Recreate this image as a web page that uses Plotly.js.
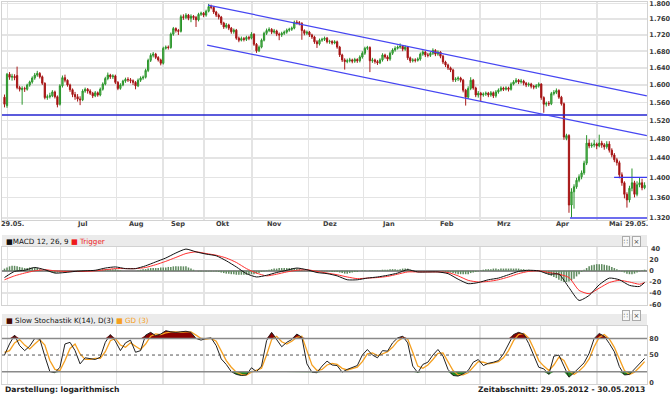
<!DOCTYPE html>
<html><head><meta charset="utf-8">
<script src="https://cdn.plot.ly/plotly-3.0.1.min.js"></script>
<style>html,body{margin:0;padding:0;background:#fff}#c{width:670px;height:394px}</style>
</head><body><div id="c"></div>
<script>
// ---- price data (USD, one candle per trading-day slot) ----
const openP = [1572,1553,1625,1618,1620,1622,1594,1589,1592,1590,1600,1607,1616,1623,1627,1619,1604,1571,1573,1575,
1584,1573,1556,1598,1617,1611,1600,1589,1578,1573,1568,1566,1586,1590,1586,1581,1575,1582,1577,1590,
1602,1615,1623,1619,1621,1606,1592,1600,1609,1613,1612,1610,1606,1598,1611,1616,1618,1634,1658,1670,
1673,1665,1659,1651,1687,1690,1689,1722,1736,1731,1729,1766,1764,1770,1762,1767,1764,1758,1772,1775,
1770,1780,1792,1790,1778,1770,1765,1750,1740,1745,1737,1728,1732,1712,1707,1711,1709,1714,1712,1722,
1697,1681,1690,1707,1724,1731,1734,1727,1730,1722,1720,1724,1727,1732,1734,1737,1752,1751,1749,1731,
1724,1727,1720,1715,1703,1698,1707,1709,1712,1703,1704,1700,1703,1690,1671,1659,1655,1657,1659,1656,
1660,1657,1666,1675,1687,1689,1657,1659,1655,1652,1659,1671,1666,1661,1675,1683,1687,1690,1692,1685,
1690,1664,1657,1659,1658,1661,1673,1678,1671,1670,1675,1682,1673,1678,1668,1654,1647,1640,1635,1612,
1614,1616,1611,1588,1572,1592,1611,1593,1577,1581,1577,1579,1581,1577,1582,1575,1584,1588,1593,1590,
1593,1590,1602,1607,1611,1607,1609,1604,1600,1602,1597,1595,1598,1602,1571,1556,1558,1557,1580,1583,
1587,1572,1557,1481,1487,1345,1371,1381,1394,1401,1409,1429,1471,1465,1467,1469,1465,1471,1467,1463,
1469,1456,1446,1436,1430,1405,1389,1366,1355,1378,1389,1366,1385,1389,1379];
const highP = [1578,1628,1630,1626,1625,1643,1598,1597,1596,1603,1610,1620,1628,1633,1630,1622,1606,1578,1582,1588,
1587,1576,1602,1622,1624,1613,1603,1592,1584,1579,1574,1590,1594,1593,1590,1584,1586,1585,1594,1606,
1619,1629,1626,1625,1624,1609,1604,1612,1617,1618,1616,1613,1609,1615,1620,1622,1638,1662,1675,1678,
1676,1668,1662,1691,1694,1694,1726,1740,1739,1735,1771,1772,1775,1773,1772,1770,1768,1776,1779,1778,
1784,1799,1797,1793,1781,1774,1768,1753,1750,1748,1740,1736,1735,1716,1716,1715,1718,1718,1727,1724,
1700,1694,1711,1728,1736,1739,1737,1735,1733,1726,1728,1731,1736,1738,1741,1756,1757,1755,1752,1734,
1731,1730,1723,1718,1707,1711,1713,1716,1715,1708,1707,1707,1706,1693,1674,1663,1662,1664,1662,1664,
1663,1670,1680,1691,1693,1692,1664,1662,1659,1663,1675,1674,1670,1679,1687,1692,1694,1699,1695,1694,
1692,1667,1663,1663,1665,1677,1682,1681,1676,1679,1687,1685,1682,1680,1671,1657,1650,1643,1638,1618,
1620,1619,1614,1591,1597,1618,1614,1596,1586,1584,1583,1585,1584,1586,1585,1588,1592,1597,1596,1597,
1596,1606,1611,1616,1614,1614,1612,1607,1606,1605,1600,1602,1606,1604,1574,1562,1563,1584,1588,1592,
1590,1575,1560,1491,1490,1378,1386,1399,1406,1414,1434,1488,1479,1472,1478,1472,1489,1476,1471,1475,
1475,1460,1450,1440,1434,1410,1392,1370,1383,1418,1393,1392,1400,1397,1390];
const lowP = [1549,1548,1612,1610,1611,1590,1585,1555,1584,1587,1596,1603,1612,1619,1615,1600,1567,1566,1569,1572,
1569,1549,1553,1594,1606,1596,1584,1572,1566,1562,1554,1563,1582,1580,1577,1570,1572,1573,1574,1587,
1599,1611,1614,1614,1602,1588,1589,1597,1605,1607,1604,1600,1590,1595,1607,1612,1615,1630,1654,1665,
1661,1655,1646,1648,1684,1684,1686,1718,1726,1720,1726,1758,1760,1757,1752,1758,1740,1754,1768,1765,
1766,1777,1785,1773,1765,1759,1745,1735,1736,1732,1723,1723,1708,1702,1704,1704,1705,1707,1709,1693,
1676,1678,1687,1704,1720,1727,1722,1723,1717,1707,1715,1720,1723,1728,1730,1734,1746,1744,1708,1719,
1720,1715,1710,1698,1688,1694,1703,1705,1699,1698,1696,1697,1686,1666,1654,1636,1651,1653,1651,1652,
1652,1653,1662,1671,1683,1630,1652,1650,1647,1649,1655,1662,1656,1657,1671,1679,1684,1686,1680,1681,
1659,1652,1653,1653,1655,1657,1669,1666,1665,1666,1671,1668,1669,1663,1649,1642,1635,1630,1607,1607,
1609,1606,1583,1553,1568,1588,1589,1572,1571,1561,1573,1575,1572,1573,1570,1571,1580,1585,1586,1587,
1585,1587,1599,1604,1602,1603,1599,1595,1596,1592,1590,1591,1594,1566,1537,1551,1552,1554,1576,1579,
1568,1553,1478,1477,1330,1321,1338,1377,1390,1396,1405,1425,1460,1461,1462,1458,1462,1461,1457,1459,
1451,1441,1431,1424,1398,1383,1358,1340,1350,1372,1360,1362,1380,1374,1376];
const closeP = [1556,1625,1618,1620,1617,1594,1590,1592,1591,1600,1607,1616,1623,1627,1619,1604,1571,1573,1575,1584,
1573,1555,1598,1617,1611,1600,1589,1578,1573,1568,1566,1586,1590,1586,1581,1575,1582,1577,1590,1602,
1615,1623,1619,1621,1606,1592,1600,1609,1613,1612,1610,1606,1598,1611,1616,1618,1634,1658,1670,1673,
1665,1659,1651,1687,1690,1689,1722,1736,1731,1729,1766,1764,1770,1762,1767,1764,1758,1772,1775,1770,
1780,1792,1790,1778,1770,1765,1750,1740,1745,1737,1728,1732,1712,1707,1711,1709,1714,1712,1722,1697,
1681,1690,1707,1724,1731,1734,1727,1730,1722,1720,1724,1727,1732,1734,1737,1752,1751,1749,1731,1724,
1727,1720,1715,1703,1698,1707,1709,1712,1703,1704,1700,1703,1690,1671,1659,1655,1657,1659,1656,1660,
1657,1666,1675,1687,1689,1657,1659,1655,1652,1659,1671,1666,1661,1675,1683,1687,1690,1692,1685,1690,
1664,1657,1659,1658,1661,1673,1678,1671,1670,1675,1682,1673,1678,1668,1654,1647,1640,1635,1612,1614,
1616,1611,1588,1572,1592,1611,1593,1577,1581,1577,1579,1581,1577,1582,1575,1584,1588,1593,1590,1593,
1590,1602,1607,1611,1607,1609,1604,1600,1602,1597,1595,1598,1602,1571,1556,1558,1557,1580,1583,1587,
1572,1557,1484,1487,1345,1371,1381,1394,1401,1409,1429,1471,1465,1467,1469,1465,1471,1467,1463,1469,
1456,1446,1436,1430,1405,1389,1366,1355,1378,1389,1366,1385,1389,1379,1384];

// ---- MACD (sampled every 4 slots, last at slot 254) ----
const macdLine = [-12,-1,1,6,2,-4,-3,-1,0,1,5,7,4,4,9,16,23,32,39,34,30,27,18,7,-5,-11,-8,-3,1,5,
2,-3,-5,-9,-16,-16,-13,-11,-8,-4,2,-2,-2,-2,-5,-15,-23,-21,-16,-13,-7,-1,1,0,-6,-6,-30,-53,-44,-25,
-13,-16,-26,-28,-21];
const triggerLine = [-16,-9,-4,0,2,0,-1,-1,-1,0,2,4,4,4,6,11,17,24,31,34,31,28,23,15,4,-4,-9,-6,-2,1,
2,-1,-4,-7,-11,-14,-13,-12,-10,-6,-2,-2,-2,-2,-3,-9,-17,-20,-19,-16,-11,-5,-1,0,-3,-6,-12,-35,-41,-31,
-21,-17,-20,-24,-21];
const macdHist = [4,6,8,9,9,8,7,6,5,5,6,6,6,5,3,1,
0,-1,-2,-3,-4,-3,-3,-2,-2,-1,0,0,0,1,1,1,
1,1,1,1,1,2,2,3,3,3,3,3,3,2,1,0,
0,0,0,0,0,1,2,3,3,4,5,5,5,5,6,6,
6,7,7,8,8,8,8,8,8,6,4,2,0,-1,-1,-1,
-1,-1,-1,-1,-1,-2,-3,-4,-5,-5,-6,-6,-7,-7,-7,-7,
-7,-7,-6,-6,-5,-4,-2,-1,1,2,3,4,4,5,5,5,
5,5,5,5,4,3,2,1,0,-1,-1,-2,-2,-1,-1,-1,
-1,-1,-2,-2,-2,-3,-4,-5,-5,-4,-3,-2,-2,0,1,1,
0,1,1,1,1,1,2,2,2,3,3,3,2,3,4,4,
4,2,1,0,0,0,0,0,0,0,0,0,0,0,-1,-2,
-2,-3,-4,-5,-6,-6,-6,-6,-6,-4,-3,-2,-1,1,2,3,
3,3,4,4,3,4,4,4,4,4,4,4,4,3,3,2,2,1,0,0,
0,-1,-3,-5,-7,-9,-11,-13,-16,-18,-20,-20,-19,-17,-14,-10,-6,-2,2,5,
8,10,11,12,12,12,11,10,9,7,5,3,1,-1,-3,-5,-6,-6,-5,-3,-1,1,2];

// ---- Slow stochastic (sampled every 2 slots) ----
const stochK = [50,70,86,67,58,66,80,79,48,20,18,28,70,73,58,34,45,44,42,46,
73,87,75,58,72,77,55,58,86,91,85,88,94,92,91,92,93,91,80,77,
80,81,67,43,33,20,15,13,14,27,20,30,76,91,78,65,73,78,88,82,
34,19,18,30,39,32,31,19,24,28,31,50,60,50,45,58,57,72,81,84,
72,30,18,33,37,50,60,48,24,13,12,16,22,37,42,31,35,37,40,52,
70,87,91,88,71,48,28,25,15,48,50,30,10,18,28,36,53,80,89,84,
71,56,29,14,15,25,34,44];
const stochD = [55,58,72,78,68,61,70,78,68,40,24,22,40,62,70,52,42,42,44,44,
56,76,80,68,64,72,66,60,70,84,88,87,90,92,92,91,92,92,86,80,
79,80,75,57,40,28,19,15,14,19,22,26,50,78,84,74,70,75,82,84,
58,32,22,24,32,35,33,26,23,25,28,38,52,54,49,52,56,64,75,81,
79,55,30,26,32,42,53,54,38,22,14,14,18,28,38,37,34,36,38,45,
58,76,87,89,81,62,40,30,22,32,46,40,22,15,21,30,43,65,82,87,
79,64,42,22,15,19,28,38];

// ---- axis / annotation layout values ----
const gridSlots = [1.1,22.3,44.5,62.9,79.2,98.2,120.7,142.4,167.1,188.7,212.6,235.1];
const xLabels = ['29.05.','Jul','Aug','Sep','Okt','Nov','Dez','Jan','Feb','Mrz','Apr','Mai','29.05.'];
const xLabelSlots = [3.2,30.8,52.2,68.8,86.7,107.3,129.2,152.2,175.6,198.2,221.6,242.3,250.6];
const priceTicks = [1320,1360,1400,1440,1480,1520,1560,1600,1640,1680,1720,1760,1800];
const macdTicks = [-60,-40,-20,0,20,40];
const macdTickText = ['-60','-40','-20','0','20','40'];
const stochTicks = [0,50,80];
// drawn trend lines (slot, price)
const upperTrendX = [80.75,254.9], upperTrendY = [1796,1575];
const lowerTrendX = [80.4,254.9], lowerTrendY = [1695,1487];
const supportX = [-1,256], supportY = [1532,1532];
const lowLineX = [224.4,256], lowLineY = [1320,1320];
const shortLineX = [241.9,256], shortLineY = [1400,1400];

const W = 670, H = 394;
const px = x => x / W, py = y => 1 - y / H;
const slots = closeP.map((_, i) => i);
const macdSlots = macdLine.map((_, i) => Math.min(i * 4, 254));
const stochSlots = stochK.map((_, i) => i * 2);
const XR = [-0.99, 254.96];
const FONT = 'DejaVu Sans';
const LBL = {family: FONT, size: 6.6, color: '#3a3a3a', weight: 'bold'};

const traces = [];
// candles
traces.push({type: 'candlestick', x: slots, open: openP, high: highP, low: lowP, close: closeP,
  xaxis: 'x', yaxis: 'y', whiskerwidth: 0,
  increasing: {line: {color: '#2a942a', width: 1}, fillcolor: '#6cc46c'},
  decreasing: {line: {color: '#a81818', width: 1}, fillcolor: '#9a0000'},
  hoverinfo: 'skip', showlegend: false});
const lineTr = (x, y, c, w) => ({type: 'scatter', mode: 'lines', x, y, xaxis: 'x', yaxis: 'y',
  line: {color: c, width: w}, hoverinfo: 'skip', showlegend: false});
traces.push(lineTr(supportX, supportY, '#2424d0', 1.3));
traces.push(lineTr(upperTrendX, upperTrendY, '#4646f2', 1.2));
traces.push(lineTr(lowerTrendX, lowerTrendY, '#4646f2', 1.2));
traces.push(lineTr(lowLineX, lowLineY, '#4646f2', 1.4));
traces.push(lineTr(shortLineX, shortLineY, '#3a3af0', 1.3));

// MACD panel
traces.push({type: 'bar', x: slots, y: macdHist, xaxis: 'x2', yaxis: 'y2', width: 0.6,
  marker: {color: '#5e8a5e', line: {width: 0}}, hoverinfo: 'skip', showlegend: false});
traces.push({type: 'scatter', mode: 'lines', x: macdSlots, y: triggerLine, xaxis: 'x2', yaxis: 'y2',
  line: {color: '#ff2f2f', width: 1, shape: 'spline', smoothing: 0.6}, hoverinfo: 'skip', showlegend: false});
traces.push({type: 'scatter', mode: 'lines', x: macdSlots, y: macdLine, xaxis: 'x2', yaxis: 'y2',
  line: {color: '#111', width: 1, shape: 'spline', smoothing: 0.6}, hoverinfo: 'skip', showlegend: false});

// Stochastic panel: fills beyond 80 / 20
const hi = stochK.map(v => Math.max(v, 80)), lo = stochK.map(v => Math.min(v, 20));
const base80 = stochK.map(() => 80), base20 = stochK.map(() => 20);
const st = (y, extra) => Object.assign({type: 'scatter', mode: 'lines', x: stochSlots, y,
  xaxis: 'x3', yaxis: 'y3', hoverinfo: 'skip', showlegend: false}, extra);
traces.push(st(base80, {line: {width: 0, color: 'rgba(0,0,0,0)'}}));
traces.push(st(hi, {fill: 'tonexty', fillcolor: '#8b0000', line: {width: 0, color: 'rgba(0,0,0,0)'}}));
traces.push(st(base20, {line: {width: 0, color: 'rgba(0,0,0,0)'}}));
traces.push(st(lo, {fill: 'tonexty', fillcolor: '#1f8a1f', line: {width: 0, color: 'rgba(0,0,0,0)'}}));
traces.push(st(stochD, {line: {color: '#f5a020', width: 1.3}}));
traces.push(st(stochK, {line: {color: '#222', width: 1}}));

const xCommon = {range: XR, tickvals: gridSlots, showticklabels: false, showgrid: true,
  gridcolor: '#e4e4e4', gridwidth: 1.5, zeroline: false, showline: true, mirror: true,
  linecolor: '#d2d2d2', linewidth: 1, ticks: '', fixedrange: true,
  domain: [px(2), px(647)], rangeslider: {visible: false}};
const yCommon = {side: 'right', ticks: '', showline: true, mirror: true, linecolor: '#d2d2d2',
  linewidth: 1, tickfont: LBL, fixedrange: true, gridcolor: '#e4e4e4', gridwidth: 1.5,
  ticklabeloverflow: 'allow'};

const shapes = [
  {type: 'rect', xref: 'paper', yref: 'paper', x0: px(2), x1: px(647), y0: py(246.5), y1: py(235),
   fillcolor: '#ebebeb', line: {width: 0}, layer: 'below'},
  {type: 'rect', xref: 'paper', yref: 'paper', x0: px(2), x1: px(647), y0: py(326), y1: py(314),
   fillcolor: '#ebebeb', line: {width: 0}, layer: 'below'},
  {type: 'line', xref: 'x3 domain', yref: 'y3', x0: 0, x1: 1, y0: 80, y1: 80, line: {color: '#8a8a8a', width: 1.5}},
  {type: 'line', xref: 'x3 domain', yref: 'y3', x0: 0, x1: 1, y0: 20, y1: 20, line: {color: '#8a8a8a', width: 1.5}},
  {type: 'line', xref: 'x3 domain', yref: 'y3', x0: 0, x1: 1, y0: 50, y1: 50, line: {color: '#555', width: 1, dash: 'dot'}}
];

const annotations = [];
xLabels.forEach((t, i) => annotations.push({xref: 'x', yref: 'paper', x: xLabelSlots[i], y: py(224.5),
  text: t, showarrow: false, xanchor: 'center', yanchor: 'middle', font: LBL}));
// top MACD tick label, placed at the 40 level of the MACD scale
annotations.push({xref: 'paper', yref: 'y2', x: px(648.5), y: macdTicks[5], xanchor: 'left', yanchor: 'middle',
  text: macdTickText[5], showarrow: false, font: LBL});
const legFont = {family: FONT, size: 7.2, color: '#111'};
annotations.push({xref: 'paper', yref: 'paper', x: px(4), y: py(241.5), xanchor: 'left', yanchor: 'middle',
  showarrow: false, font: legFont,
  text: '<span style="color:#111">■</span>MACD 12, 26, 9 <span style="color:#ee1c1c">■ Trigger</span>'});
annotations.push({xref: 'paper', yref: 'paper', x: px(4), y: py(320.5), xanchor: 'left', yanchor: 'middle',
  showarrow: false, font: legFont,
  text: '<span style="color:#4a0a00">■</span> Slow Stochastik K(14), D(3) <span style="color:#f5a020">■ GD (3)</span>'});
[241.5, 320.5].forEach(y => {
  annotations.push({xref: 'paper', yref: 'paper', x: px(630), y: py(y), showarrow: false, text: '∷',
    font: {family: FONT, size: 7, color: '#444'}, bgcolor: '#f7f7f7', bordercolor: '#aaa', borderwidth: 1, borderpad: 0.5});
  annotations.push({xref: 'paper', yref: 'paper', x: px(641), y: py(y), showarrow: false, text: '×',
    font: {family: FONT, size: 7, color: '#444'}, bgcolor: '#f7f7f7', bordercolor: '#aaa', borderwidth: 1, borderpad: 0.5});
});
const footFont = {family: FONT, size: 7.6, color: '#222', weight: 'bold'};
annotations.push({xref: 'paper', yref: 'paper', x: px(3), y: py(389), xanchor: 'left', yanchor: 'middle',
  showarrow: false, text: 'Darstellung: logarithmisch', font: footFont});
annotations.push({xref: 'paper', yref: 'paper', x: px(647), y: py(389), xanchor: 'right', yanchor: 'middle',
  showarrow: false, text: 'Zeitabschnitt: 29.05.2012 - 30.05.2013', font: footFont});

const k = 691.6;
const pTop = 1800 * Math.exp(1.5 / k), pBot = 1800 * Math.exp(-216.5 / k);

const layout = {
  width: W, height: H, margin: {l: 0, r: 0, t: 0, b: 0}, paper_bgcolor: '#fff', plot_bgcolor: '#fff',
  separators: ',.', showlegend: false, hovermode: false, dragmode: false,
  xaxis: Object.assign({}, xCommon, {anchor: 'y'}),
  yaxis: Object.assign({}, yCommon, {domain: [py(220), py(2)], type: 'log',
    range: [Math.log10(pBot), Math.log10(pTop)], tickvals: priceTicks, tickformat: ',', showgrid: true, zeroline: false}),
  xaxis2: Object.assign({}, xCommon, {anchor: 'y2', matches: 'x'}),
  yaxis2: Object.assign({}, yCommon, {domain: [py(305), py(246.5)], range: [-61.2, 43.6],
    tickvals: macdTicks.slice(0, 5), ticktext: macdTickText.slice(0, 5), showgrid: true,
    zeroline: true, zerolinecolor: '#8c8c8c', zerolinewidth: 1.5}),
  xaxis3: Object.assign({}, xCommon, {anchor: 'y3', matches: 'x'}),
  yaxis3: Object.assign({}, yCommon, {domain: [py(384), py(326)], range: [-2.35, 102.5],
    tickvals: stochTicks, showgrid: false, zeroline: false}),
  shapes, annotations
};
Plotly.newPlot('c', traces, layout, {staticPlot: true, displayModeBar: false});
</script></body></html>
